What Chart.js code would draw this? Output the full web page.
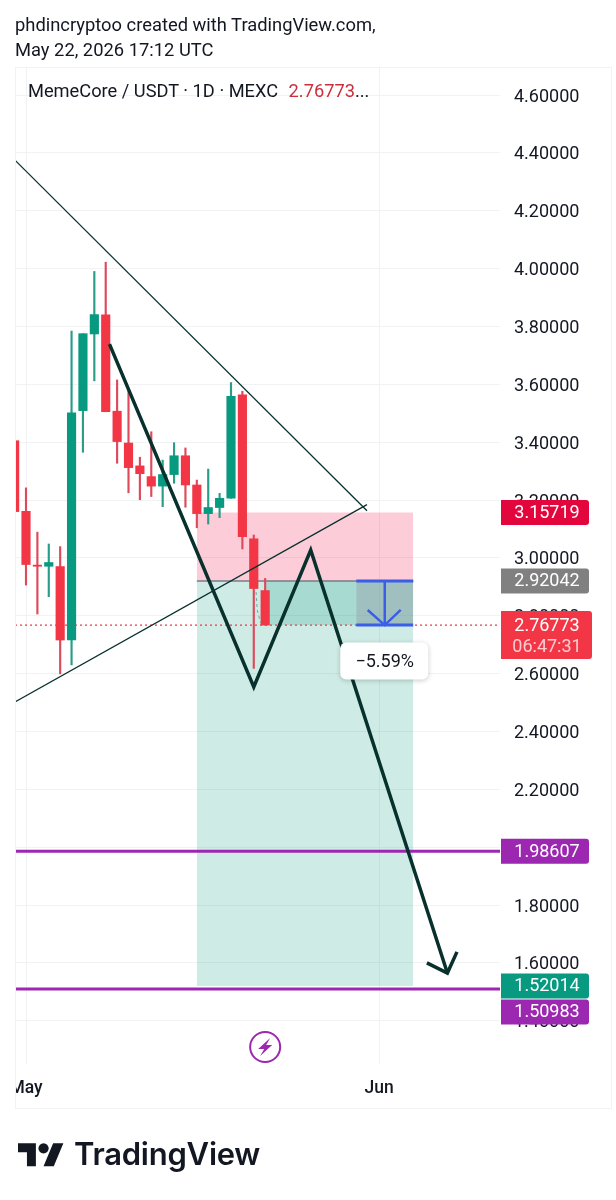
<!DOCTYPE html>
<html lang="en">
<head>
  <meta charset="UTF-8" />
  <title>MemeCore / USDT</title>
  <style>
    html, body { margin: 0; background: #fff; }
    #page { position: relative; width: 616px; height: 1200px; overflow: hidden; font-family: Roboto, sans-serif; color: #131722; }
    canvas { position: absolute; left: 0; top: 0; }
    .head { position: absolute; left: 15px; font-size: 18.35px; line-height: 20px; white-space: nowrap; }
    #frame { position: absolute; left: 15px; top: 67px; width: 595px; height: 1040px; border: 1px solid #f1f2f4; }
    #legend { position: absolute; left: 28px; top: 80px; font-size: 18.25px; line-height: 22px; white-space: nowrap; }
    #legend span { color: #cc2f3c; margin-left: 6px; }
    #logo { position: absolute; left: 18px; top: 1138px; width: 46px; height: 36px; }
    #brand { position: absolute; left: 74px; top: 1134px; font-family: Inter, Roboto, sans-serif; font-weight: 600; font-size: 31px; line-height: 40px; color: #131722; letter-spacing: -0.25px; }
  </style>
</head>
<body>
<div id="page">
  <canvas id="chart" width="616" height="1200"></canvas>
  <div id="frame"></div>
  <div class="head" style="top:15px">phdincryptoo created with TradingView.com,</div>
  <div class="head" style="top:40px">May 22, 2026 17:12 UTC</div>
  <div id="legend">MemeCore / USDT · 1D · MEXC <span>2.76773</span>...</div>
  <svg id="logo" viewBox="0 0 36 28"><path fill="#131722" d="M14 22H7V11H0V4h14v18zM28 22h-8l7.5-18h8L28 22z"></path><circle fill="#131722" cx="20" cy="8" r="4"></circle></svg>
  <div id="brand">TradingView</div>
</div>

<script src="https://cdn.jsdelivr.net/npm/chart.js@4"></script>
<script>
  // candles, day 1 = May 1
  const days   = [0, 1, 2, 3, 4, 5, 6, 7, 8, 9, 10, 11, 12, 13, 14, 15, 16, 17, 18, 19, 20, 21, 22];
  const opens  = [3.405, 3.161, 2.975, 2.971, 2.970, 2.716, 3.509, 3.774, 3.840, 3.507, 3.397, 3.318, 3.281, 3.248, 3.288, 3.353, 3.252, 3.153, 3.174, 3.206, 3.564, 3.066, 2.887];
  const highs  = [3.405, 3.242, 3.089, 3.048, 3.039, 3.784, 3.775, 3.990, 4.022, 3.615, 3.578, 3.348, 3.436, 3.338, 3.398, 3.380, 3.269, 3.307, 3.223, 3.606, 3.576, 3.079, 2.929];
  const lows   = [3.160, 2.906, 2.806, 2.866, 2.599, 2.630, 3.365, 3.612, 3.505, 3.327, 3.225, 3.201, 3.212, 3.177, 3.258, 3.175, 3.104, 3.117, 3.139, 3.206, 3.031, 2.618, 2.76773];
  const closes = [3.160, 2.977, 2.971, 2.984, 2.716, 3.501, 3.775, 3.841, 3.505, 3.402, 3.312, 3.291, 3.248, 3.288, 3.353, 3.252, 3.153, 3.174, 3.206, 3.558, 3.073, 2.894, 2.76773];

  const yTicks = [4.6, 4.4, 4.2, 4.0, 3.8, 3.6, 3.4, 3.2, 3.0, 2.8, 2.6, 2.4, 2.2, 2.0, 1.8, 1.6, 1.4];
  const xTicks = [1, 32];
  const xLabels = ['May', 'Jun'];

  // position tool
  const stopPrice = 3.15719;
  const entryPrice = 2.92042;
  const lastPrice = 2.76773;
  const targetPrice = 1.52014;
  const toolDays = [16, 35];
  const openDays = [22, 35];
  const measureDays = [30, 35];

  // drawings
  const supportA = 1.98607;
  const supportB = 1.50983;
  const fallDays = [0.03, 30.94];
  const fallValues = [4.375, 3.163];
  const riseDays = [0.03, 30.94];
  const riseValues = [2.502, 3.184];
  const pathDays = [8.33, 21, 26, 38];
  const pathValues = [3.739, 2.554, 3.027, 1.565];
  const headDays = [36.2, 38, 38.84];
  const headValues = [1.600, 1.565, 1.638];
  const stemDays = [32.5, 32.5];
  const blueHeadDays = [31, 32.5, 33.9];
  const blueHeadValues = [2.82, lastPrice, 2.82];
  const ghostDays = [21.2, 21.3, 21.6];
  const ghostValues = [2.882, 2.82, 2.775];

  const tagValues = [3.15719, 2.92042, 1.98607, 1.52014, 1.50983];
  const tagNames = ['3.15719', '2.92042', '1.98607', '1.52014', '1.50983'];
  const timer = '06:47:31';
  const changeLabel = '−5.59%';

  const RED = '#f23645', GREEN = '#089981', PURPLE = '#9c27b0', DARK = '#08312e', BLUE = '#3a5fe6';
  const GRID = '#f1f2f4';
  const X_MIN = 0.034, X_MAX = 42.62, Y_MIN = 1.2505, Y_MAX = 4.6968;

  function line(xs, ys, color, width, order, extra) {
    return Object.assign({
      type: 'line',
      data: xs.map((x, i) => ({ x: x, y: ys[i] })),
      borderColor: color,
      borderWidth: width,
      pointRadius: 0,
      tension: 0,
      order: order
    }, extra || {});
  }

  function band(xs, top, bottom, color, order) {
    return line(xs, [top, top], 'transparent', 0, order, { fill: { value: bottom }, backgroundColor: color });
  }

  const isUp = closes.map((c, i) => c >= opens[i]);

  const overlay = {
    id: 'overlay',
    afterDraw(chart) {
      const ctx = chart.ctx, xs = chart.scales.x, ys = chart.scales.y;
      ctx.save();

      // time label is cut by the left edge of the pane
      ctx.fillStyle = '#fff';
      ctx.fillRect(0, 1064, 15, 44);

      ctx.font = '18px Roboto';
      ctx.textAlign = 'center';
      ctx.textBaseline = 'middle';

      // price tags
      const tagColors = ['#e2063c', '#808080', PURPLE, GREEN, PURPLE];
      tagValues.forEach((v, i) => {
        const shift = i === 4 ? 23 : 0;
        const y = ys.getPixelForValue(v) + shift;
        ctx.fillStyle = tagColors[i];
        ctx.beginPath();
        ctx.roundRect(501, y - 12.5, 88, 25, [0, 3, 3, 0]);
        ctx.fill();
        ctx.fillStyle = '#fff';
        ctx.fillText(tagNames[i], 547, y + 1);
      });

      // last price tag with countdown
      const ly = ys.getPixelForValue(lastPrice);
      ctx.fillStyle = RED;
      ctx.beginPath();
      ctx.roundRect(501, ly - 14, 91, 48, [0, 3, 3, 0]);
      ctx.fill();
      ctx.fillStyle = '#fff';
      ctx.fillText(lastPrice.toFixed(5), 547, ly + 1.5);
      ctx.fillStyle = 'rgba(255,255,255,0.75)';
      ctx.fillText(timer, 547, ly + 22.5);

      // percent label
      const cx = xs.getPixelForValue(32.5), cy = ys.getPixelForValue(lastPrice) + 36;
      ctx.save();
      ctx.shadowColor = 'rgba(0,0,0,0.22)';
      ctx.shadowBlur = 5;
      ctx.shadowOffsetY = 1;
      ctx.fillStyle = '#fff';
      ctx.beginPath();
      ctx.roundRect(cx - 44.5, cy - 18.5, 88, 37, 6);
      ctx.fill();
      ctx.restore();
      ctx.fillStyle = '#131722';
      ctx.font = '18px Roboto';
      ctx.fillText(changeLabel, cx, cy + 1);

      // flash icon
      const ix = xs.getPixelForValue(22), iy = 1047;
      ctx.strokeStyle = PURPLE;
      ctx.lineWidth = 2;
      ctx.beginPath();
      ctx.arc(ix, iy, 15, 0, Math.PI * 2);
      ctx.stroke();
      ctx.fillStyle = PURPLE;
      ctx.beginPath();
      ctx.moveTo(ix + 5, iy - 9);
      ctx.lineTo(ix - 7, iy + 2);
      ctx.lineTo(ix - 1, iy + 2);
      ctx.lineTo(ix - 5, iy + 9);
      ctx.lineTo(ix + 7, iy - 2);
      ctx.lineTo(ix + 1, iy - 2);
      ctx.closePath();
      ctx.fill();

      ctx.restore();
    }
  };

  new Chart(document.getElementById('chart').getContext('2d'), {
    type: 'bar',
    plugins: [overlay],
    data: {
      datasets: [
        band(toolDays, stopPrice, entryPrice, 'rgba(242,0,60,0.2)', 50),
        band(toolDays, entryPrice, targetPrice, 'rgba(8,153,129,0.2)', 49),
        band(openDays, entryPrice, lastPrice, 'rgba(8,153,129,0.2)', 48),
        band(measureDays, entryPrice, lastPrice, 'rgba(150,150,165,0.4)', 47),
        line(toolDays, [entryPrice, entryPrice], '#787b86', 1.5, 46),
        line([X_MIN, X_MAX], [lastPrice, lastPrice], RED, 1.2, 45, { borderDash: [2, 3] }),
        {
          type: 'bar',
          grouped: false,
          data: days.map((d, i) => ({ x: d, y: [lows[i], highs[i]] })),
          backgroundColor: isUp.map(u => u ? '#2a9d88' : '#dd4a5c'),
          barThickness: 1.5,
          order: 30
        },
        {
          type: 'bar',
          grouped: false,
          data: days.map((d, i) => ({ x: d, y: [opens[i], closes[i]] })),
          backgroundColor: isUp.map(u => u ? GREEN : RED),
          barThickness: 8.5,
          order: 29
        },
        line(ghostDays, ghostValues, '#6aa898', 1, 28, { borderDash: [3, 3] }),
        line([X_MIN, X_MAX], [supportA, supportA], PURPLE, 3, 20),
        line([X_MIN, X_MAX], [supportB, supportB], PURPLE, 3, 20),
        line(fallDays, fallValues, DARK, 1.3, 15),
        line(riseDays, riseValues, DARK, 1.3, 15),
        line(pathDays, pathValues, DARK, 3.5, 10),
        line(headDays, headValues, DARK, 3.5, 10),
        line(measureDays, [entryPrice, entryPrice], BLUE, 3, 8),
        line(measureDays, [lastPrice, lastPrice], BLUE, 3, 8),
        line(stemDays, [entryPrice, lastPrice], BLUE, 2.5, 8),
        line(blueHeadDays, blueHeadValues, BLUE, 2.5, 8)
      ]
    },
    options: {
      responsive: false,
      devicePixelRatio: 1,
      animation: false,
      layout: { autoPadding: false, padding: { left: 15, top: 67, right: 5, bottom: 92 } },
      plugins: { legend: { display: false }, tooltip: { enabled: false } },
      scales: {
        x: {
          type: 'linear',
          offset: false,
          min: X_MIN,
          max: X_MAX,
          afterBuildTicks: s => { s.ticks = xTicks.map(v => ({ value: v })); },
          // no extra room for the May label, it gets cut at the pane edge
          afterFit: s => { s.height = 44; s.paddingLeft = 0; s.paddingRight = 0; },
          grid: { offset: false, color: GRID, drawTicks: false },
          border: { display: false },
          ticks: {
            autoSkip: false,
            maxRotation: 0,
            padding: 14,
            color: '#131722',
            font: { family: 'Roboto', size: 17.5, weight: '500' },
            callback: v => xLabels[xTicks.indexOf(v)]
          }
        },
        y: {
          position: 'right',
          min: Y_MIN,
          max: Y_MAX,
          afterBuildTicks: s => { s.ticks = yTicks.map(v => ({ value: v })); },
          afterFit: s => { s.width = 111; },
          grid: { color: GRID, drawTicks: false },
          border: { display: false },
          ticks: {
            autoSkip: false,
            padding: 14,
            color: '#131722',
            // empty first line pushes the label 2px down onto its grid line
            font: { family: 'Roboto', size: 18, lineHeight: '4px' },
            callback: v => ['', v.toFixed(5)]
          }
        }
      }
    }
  });
</script>
</body>
</html>
